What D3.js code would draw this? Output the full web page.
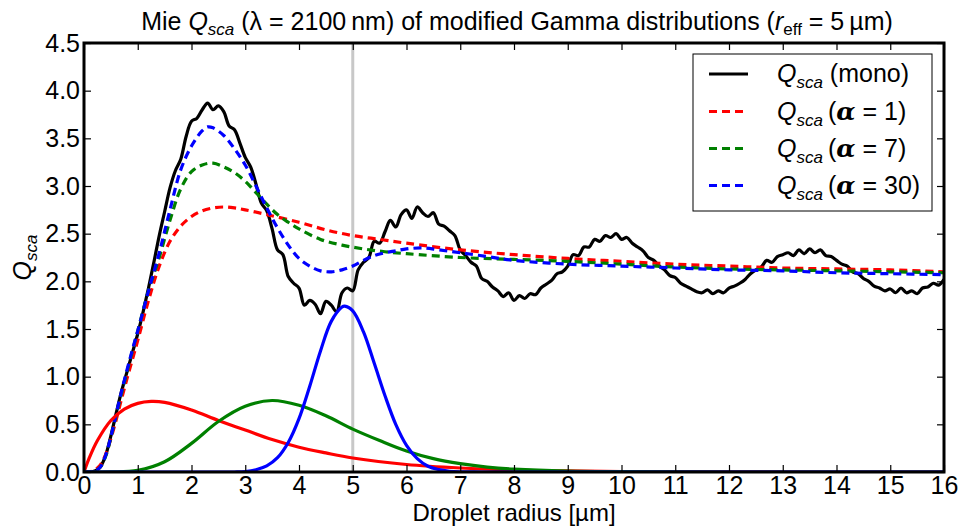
<!DOCTYPE html>
<html><head><meta charset="utf-8">
<script src="https://cdn.jsdelivr.net/npm/d3@7/dist/d3.min.js"></script>
<style>body{margin:0;background:#fff}svg text{font-family:"Liberation Sans",Arial,sans-serif;fill:#000}</style>
</head><body>
<svg id="c" width="961" height="528"></svg>
<script>
// ---------- data ----------
const xTicks = [0,1,2,3,4,5,6,7,8,9,10,11,12,13,14,15,16];
const yTicks = [0,0.5,1,1.5,2,2.5,3,3.5,4,4.5];
const rEff = 5;

// Q_sca (mono), sampled every 0.1 µm from r = 0 to 16
const monoStep = 0.1;
const monoQ = [
0.00,0.00,0.01,0.05,0.17,0.38,0.62,0.85,1.05,1.25,
1.45,1.68,1.93,2.20,2.48,2.73,2.98,3.16,3.28,3.52,
3.68,3.71,3.80,3.87,3.80,3.84,3.78,3.63,3.59,3.45,
3.30,3.20,3.02,2.82,2.74,2.55,2.33,2.28,2.05,1.98,
1.93,1.75,1.80,1.76,1.66,1.79,1.75,1.68,1.88,1.93,
1.90,2.12,2.20,2.25,2.42,2.40,2.52,2.64,2.57,2.70,
2.75,2.66,2.78,2.72,2.68,2.72,2.60,2.58,2.53,2.48,
2.33,2.27,2.20,2.16,2.03,2.00,1.94,1.90,1.84,1.88,
1.80,1.85,1.82,1.87,1.86,1.93,1.97,2.01,2.08,2.10,
2.16,2.28,2.27,2.36,2.36,2.44,2.42,2.48,2.46,2.50,
2.44,2.46,2.40,2.36,2.32,2.25,2.22,2.16,2.12,2.06,
2.04,1.98,1.95,1.92,1.89,1.88,1.91,1.87,1.90,1.88,
1.93,1.95,1.98,2.02,2.08,2.12,2.15,2.22,2.20,2.26,
2.28,2.30,2.27,2.33,2.29,2.34,2.30,2.33,2.27,2.26,
2.22,2.18,2.16,2.10,2.08,2.03,2.00,1.95,1.93,1.90,
1.92,1.88,1.93,1.88,1.90,1.87,1.93,1.94,1.98,1.96,
2.02];

// Q_sca averaged over the size distributions (dashed)
const qA1R = [0,0.1,0.2,0.3,0.4,0.5,0.6,0.7,0.8,0.9,1.0,1.2,1.4,1.6,1.8,2.0,2.2,2.4,2.6,2.8,3.0,3.4,4.0,4.5,5.0,5.5,6.0,7.0,8.0,9.0,10.0,11.0,12.0,13.0,14.0,15.0,16.0];
const qA1Q = [0,0,0.02,0.07,0.18,0.35,0.55,0.77,0.98,1.18,1.38,1.80,2.16,2.42,2.58,2.68,2.74,2.77,2.78,2.77,2.75,2.70,2.62,2.54,2.48,2.44,2.40,2.33,2.28,2.24,2.21,2.18,2.16,2.14,2.13,2.12,2.10];

const qA7R = [0,0.1,0.2,0.3,0.4,0.5,0.6,0.7,0.8,0.9,1.0,1.2,1.4,1.6,1.8,2.0,2.2,2.4,2.6,2.8,3.0,3.2,3.4,3.6,3.8,4.0,4.4,4.8,5.2,5.6,6.0,7.0,8.0,9.0,10.0,11.0,12.0,13.0,14.0,15.0,16.0];
const qA7Q = [0,0,0.01,0.05,0.16,0.36,0.60,0.83,1.05,1.27,1.48,1.90,2.25,2.64,2.97,3.15,3.22,3.24,3.20,3.14,3.05,2.93,2.81,2.70,2.62,2.55,2.44,2.38,2.34,2.31,2.29,2.25,2.23,2.21,2.18,2.15,2.13,2.12,2.11,2.10,2.09];

const qA30R = [0,0.1,0.2,0.3,0.4,0.5,0.6,0.7,0.8,0.9,1.0,1.2,1.4,1.6,1.8,2.0,2.2,2.3,2.4,2.6,2.8,3.0,3.2,3.4,3.6,3.8,4.0,4.2,4.4,4.6,4.8,5.0,5.2,5.4,5.6,5.8,6.0,6.3,6.6,7.0,7.5,8.0,9.0,10.0,11.0,12.0,13.0,14.0,15.0,16.0];
const qA30Q = [0,0,0.01,0.05,0.17,0.37,0.61,0.85,1.07,1.28,1.48,1.90,2.30,2.75,3.17,3.42,3.58,3.62,3.61,3.53,3.39,3.22,3.00,2.77,2.56,2.38,2.24,2.16,2.11,2.10,2.12,2.16,2.22,2.27,2.30,2.32,2.34,2.35,2.33,2.30,2.26,2.22,2.18,2.16,2.14,2.12,2.11,2.09,2.08,2.07];

// size distributions n(r) (solid, scaled)
const nA1R = [0,0.1,0.25,0.5,0.75,1.0,1.25,1.5,2.0,2.5,3.0,3.5,4.0,4.5,5.0,6.0,7.0,8.0,9.0,10.0,12.0,16.0];
const nA1V = [0,0.15,0.33,0.54,0.66,0.72,0.74,0.73,0.65,0.54,0.44,0.34,0.26,0.20,0.147,0.079,0.042,0.021,0.011,0.005,0.001,0];

const nA7R = [0,0.5,1.0,1.5,2.0,2.5,3.0,3.5,4.0,4.5,5.0,5.5,6.0,6.5,7.0,7.5,8.0,9.0,10.0,12.0,16.0];
const nA7V = [0,0.0005,0.017,0.108,0.30,0.53,0.69,0.75,0.70,0.59,0.45,0.33,0.22,0.14,0.088,0.052,0.030,0.009,0.003,0,0];

const nA30R = [0,2.8,3.0,3.2,3.4,3.6,3.8,4.0,4.2,4.4,4.6,4.8,4.85,5.0,5.2,5.4,5.6,5.8,6.0,6.2,6.4,6.6,6.8,7.0,7.4,16.0];
const nA30V = [0,0,0.005,0.024,0.064,0.15,0.31,0.56,0.90,1.27,1.58,1.73,1.74,1.69,1.47,1.14,0.80,0.50,0.28,0.14,0.06,0.025,0.008,0.002,0,0];

const legendLabels = ["mono","α = 1","α = 7","α = 30"];
const colors = {mono:"#000000", a1:"#ff0000", a7:"#008000", a30:"#0000ff"};

// ---------- layout ----------
const svg = d3.select("#c");
const L = 84, R = 944, T = 43, B = 472;
const x = d3.scaleLinear().domain([0,16]).range([L,R]);
const y = d3.scaleLinear().domain([0,4.5]).range([B,T]);

svg.append("defs").append("clipPath").attr("id","clip")
  .append("rect").attr("x",L).attr("y",T).attr("width",R-L).attr("height",B-T);

const plot = svg.append("g").attr("clip-path","url(#clip)");

// reference line at r_eff
plot.append("line").attr("x1",x(rEff)).attr("x2",x(rEff)).attr("y1",T).attr("y2",B)
  .attr("stroke","#c8c8c8").attr("stroke-width",3);

const line = d3.line().x(d=>x(d[0])).y(d=>y(d[1])).curve(d3.curveCatmullRom.alpha(0.5));
const zip = (a,b)=>a.map((v,i)=>[v,b[i]]);

const monoPts = monoQ.map((q,i)=>[i*monoStep,q]);
plot.append("path").attr("d",line(monoPts)).attr("fill","none")
  .attr("stroke",colors.mono).attr("stroke-width",3.2).attr("stroke-linejoin","round");

[[qA1R,qA1Q,colors.a1],[qA7R,qA7Q,colors.a7],[qA30R,qA30Q,colors.a30]].forEach(([r,q,c])=>{
  plot.append("path").attr("d",line(zip(r,q))).attr("fill","none")
    .attr("stroke",c).attr("stroke-width",3.2).attr("stroke-dasharray","8,5");
});
[[nA1R,nA1V,colors.a1],[nA7R,nA7V,colors.a7],[nA30R,nA30V,colors.a30]].forEach(([r,v,c])=>{
  plot.append("path").attr("d",line(zip(r,v))).attr("fill","none")
    .attr("stroke",c).attr("stroke-width",3.2);
});

// ---------- axes ----------
const tickFont = 25;
const ax = svg.append("g").attr("transform",`translate(0,${B})`)
  .call(d3.axisBottom(x).tickValues(xTicks).tickFormat(d3.format("d")).tickSizeInner(-7).tickSizeOuter(0).tickPadding(4));
const axTop = svg.append("g").attr("transform",`translate(0,${T})`)
  .call(d3.axisTop(x).tickValues(xTicks).tickFormat("").tickSizeInner(-7).tickSizeOuter(0));
const ay = svg.append("g").attr("transform",`translate(${L},0)`)
  .call(d3.axisLeft(y).tickValues(yTicks).tickFormat(d3.format(".1f")).tickSizeInner(-7).tickSizeOuter(0).tickPadding(4));
const ayR = svg.append("g").attr("transform",`translate(${R},0)`)
  .call(d3.axisRight(y).tickValues(yTicks).tickFormat("").tickSizeInner(-7).tickSizeOuter(0));
[ax,axTop,ay,ayR].forEach(g=>{
  g.select(".domain").remove();
  g.selectAll(".tick line").attr("stroke","#000").attr("stroke-width",1.2);
  g.selectAll(".tick text").style("font-size",tickFont+"px").style("font-family","Liberation Sans, Arial, sans-serif").attr("fill","#000");
});

// frame
svg.append("rect").attr("x",L).attr("y",T).attr("width",R-L).attr("height",B-T)
  .attr("fill","none").attr("stroke","#000").attr("stroke-width",3);

// ---------- titles ----------
const title = svg.append("text").attr("x",517).attr("y",30).attr("text-anchor","middle").style("font-size","25px");
title.append("tspan").text("Mie ");
title.append("tspan").style("font-style","italic").text("Q");
title.append("tspan").style("font-style","italic").style("font-size","17px").attr("dy",5).text("sca");
title.append("tspan").attr("dy",-5).text(" (");
title.append("tspan").text("λ");
title.append("tspan").text(" = 2100\u2009nm) of modified Gamma distributions (");
title.append("tspan").style("font-style","italic").text("r");
title.append("tspan").style("font-size","17px").attr("dy",5).text("eff");
title.append("tspan").attr("dy",-5).text(" = 5\u2009µm)");

svg.append("text").attr("x",514).attr("y",521).attr("text-anchor","middle").style("font-size","24px")
  .text("Droplet radius [µm]");

const yl = svg.append("text").attr("transform",`translate(31,${(T+B)/2}) rotate(-90)`).attr("text-anchor","middle").style("font-size","25px");
yl.append("tspan").style("font-style","italic").text("Q");
yl.append("tspan").style("font-style","italic").style("font-size","17px").attr("dy",6).text("sca");

// ---------- legend ----------
const lg = svg.append("g");
lg.append("rect").attr("x",693).attr("y",54).attr("width",239).attr("height",157)
  .attr("fill","#fff").attr("stroke","#000").attr("stroke-width",1);
const rows = [74,111.5,148.5,185.5];
const styles = [[colors.mono,null],[colors.a1,"8,5"],[colors.a7,"8,5"],[colors.a30,"8,5"]];
legendLabels.forEach((lab,i)=>{
  lg.append("line").attr("x1",709).attr("x2",748).attr("y1",rows[i]).attr("y2",rows[i])
    .attr("stroke",styles[i][0]).attr("stroke-width",3).attr("stroke-dasharray",styles[i][1]);
  const t = lg.append("text").attr("x",777).attr("y",rows[i]+8).style("font-size","25px");
  t.append("tspan").style("font-style","italic").text("Q");
  t.append("tspan").style("font-style","italic").style("font-size","17px").attr("dy",6).text("sca");
  if(i===0){
    t.append("tspan").attr("dy",-6).text(" (mono)");
  } else {
    const parts = lab.split(" = ");
    t.append("tspan").attr("dy",-6).text("\u2009(");
    t.append("tspan").style("font-family","DejaVu Serif").style("font-style","italic").style("font-weight","bold").text("α");
    t.append("tspan").text(" = "+parts[1]+")");
  }
});
</script>
</body></html>
